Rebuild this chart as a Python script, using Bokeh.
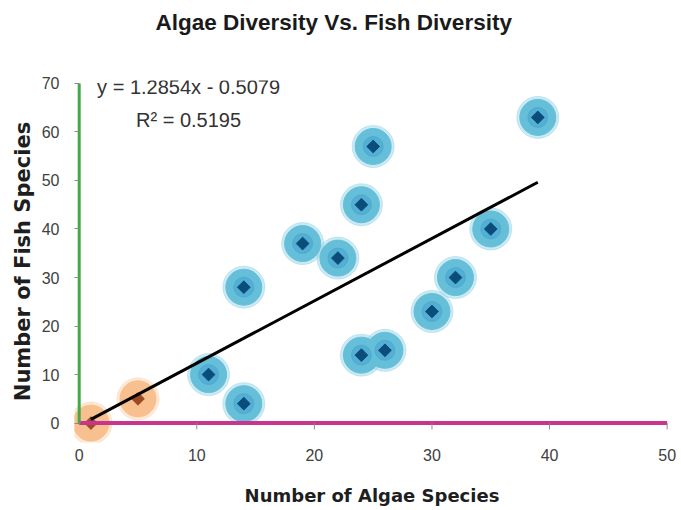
import numpy as np
from bokeh.plotting import figure
from bokeh.models import Range1d, Label, FixedTicker, LinearAxis
from bokeh.embed import file_html
from bokeh.resources import INLINE

# ---- data ----
title_text = "Algae Diversity Vs. Fish Diversity"
x_label = "Number of Algae Species"
y_label = "Number of Fish Species"

# highlighted (orange) samples
algae_highlight = [1, 5]
fish_highlight = [0, 5]

# regular (blue) samples
algae_regular = [11, 14, 14, 19, 22, 24, 24, 25, 26, 30, 32, 35, 39]
fish_regular = [10, 4, 28, 37, 34, 45, 14, 57, 15, 23, 30, 40, 63]

x_ticks = [0, 10, 20, 30, 40, 50]
y_ticks = [0, 10, 20, 30, 40, 50, 60, 70]

# ---- linear fit over all samples ----
all_x = np.array(algae_highlight + algae_regular, dtype=float)
all_y = np.array(fish_highlight + fish_regular, dtype=float)
slope, intercept = np.polyfit(all_x, all_y, 1)
r2 = np.corrcoef(all_x, all_y)[0, 1] ** 2
sign = "-" if intercept < 0 else "+"
eq_text = f"y = {slope:.4f}x {sign} {abs(intercept):.4f}"
r2_text = f"R\u00b2 = {r2:.4f}"
fit_x = [all_x.min(), all_x.max()]
fit_y = [slope * v + intercept for v in fit_x]

# ---- figure ----
p = figure(width=680, height=509,
           x_range=Range1d(-0.4, 50.2), y_range=Range1d(-4, 70.6),
           output_backend="svg", toolbar_location=None,
           min_border_left=74, min_border_right=11,
           min_border_top=80, min_border_bottom=67)
p.grid.visible = False
p.outline_line_color = None
p.background_fill_color = "white"
p.border_fill_color = "white"

p.title.text = title_text
p.title.text_font = "Liberation Sans"
p.title.text_font_size = "22.5px"
p.title.text_font_style = "bold"
p.title.text_color = "#1a1a1a"
p.title.align = "left"
p.title.offset = 81
p.title.standoff = 0
p.title.vertical_align = "top"

# x axis (labels only; line drawn at y=0 below)
xax = p.below[0]
xax.ticker = FixedTicker(ticks=x_ticks)
xax.axis_line_color = None
xax.major_tick_line_color = None
xax.minor_tick_line_color = None
xax.major_label_standoff = 0
xax.major_label_text_font = "Liberation Sans"
xax.major_label_text_font_size = "16px"
xax.major_label_text_color = "#404040"
xax.axis_label = x_label
xax.axis_label_text_font = "DejaVu Sans"
xax.axis_label_text_font_style = "bold"
xax.axis_label_text_font_size = "18px"
xax.axis_label_text_color = "#1e1e1e"
xax.axis_label_standoff = 21

# y axis
yax = p.left[0]
yax.ticker = FixedTicker(ticks=y_ticks)
yax.axis_line_color = None
yax.major_tick_in = 5
yax.major_tick_out = 0
yax.major_tick_line_color = "#8a8a8a"
yax.minor_tick_line_color = None
yax.major_label_standoff = 15
yax.major_label_text_font = "Liberation Sans"
yax.major_label_text_font_size = "16px"
yax.major_label_text_color = "#404040"
yax.axis_label = y_label
yax.axis_label_text_font = "DejaVu Sans"
yax.axis_label_text_font_style = "bold"
yax.axis_label_text_font_size = "21px"
yax.axis_label_text_color = "#1e1e1e"
yax.axis_label_standoff = 4

# invisible spacer axis above the frame, keeps the title up high
spacer = LinearAxis(ticker=FixedTicker(ticks=[x_ticks[0]]),
                    major_label_overrides={x_ticks[0]: ""},
                    axis_line_color=None,
                    major_tick_line_color=None, minor_tick_line_color=None,
                    major_label_text_font_size="1px", major_label_standoff=0,
                    major_tick_in=0, major_tick_out=44, minor_tick_out=0,
                    minor_tick_in=0)
p.add_layout(spacer, "above")

# halos
p.scatter(algae_regular, fish_regular, size=42, color="#8fd0e4", alpha=0.45)
p.scatter(algae_regular, fish_regular, size=36, color="#65bfd9")
p.scatter(algae_regular, fish_regular, size=20, color="#3f9ccb", alpha=0.45)
p.scatter(algae_highlight, fish_highlight, size=42, color="#fbd3ad", alpha=0.5)
p.scatter(algae_highlight, fish_highlight, size=36, color="#f7c08e")

# centre markers
p.scatter(algae_regular, fish_regular, marker="square", angle=np.pi / 4,
          size=9, color="#0b4d7a")
p.scatter(algae_highlight, fish_highlight, marker="square", angle=np.pi / 4,
          size=9, color="#9c4a25")

# trend line
p.line(fit_x, fit_y, line_color="black", line_width=3)

# axis lines
p.line([x_ticks[0], x_ticks[-1]], [y_ticks[0], y_ticks[0]],
       line_color="#c8358f", line_width=4)
p.line([x_ticks[0], x_ticks[0]], [y_ticks[0], y_ticks[-1]],
       line_color="#43a947", line_width=3)
p.segment(x0=x_ticks[1:], y0=[0] * (len(x_ticks) - 1),
          x1=x_ticks[1:], y1=[-1.3] * (len(x_ticks) - 1),
          line_color="#8a8a8a", line_width=1)

# equation annotations
p.add_layout(Label(x=9.3, y=69.2, text=eq_text, text_align="center",
                   text_baseline="middle", text_font="Liberation Sans",
                   text_font_size="20px", text_color="#333333"))
p.add_layout(Label(x=9.3, y=62.4, text=r2_text, text_align="center",
                   text_baseline="middle", text_font="Liberation Sans",
                   text_font_size="20px", text_color="#333333"))

open("out.html", "w").write(file_html(p, INLINE))
